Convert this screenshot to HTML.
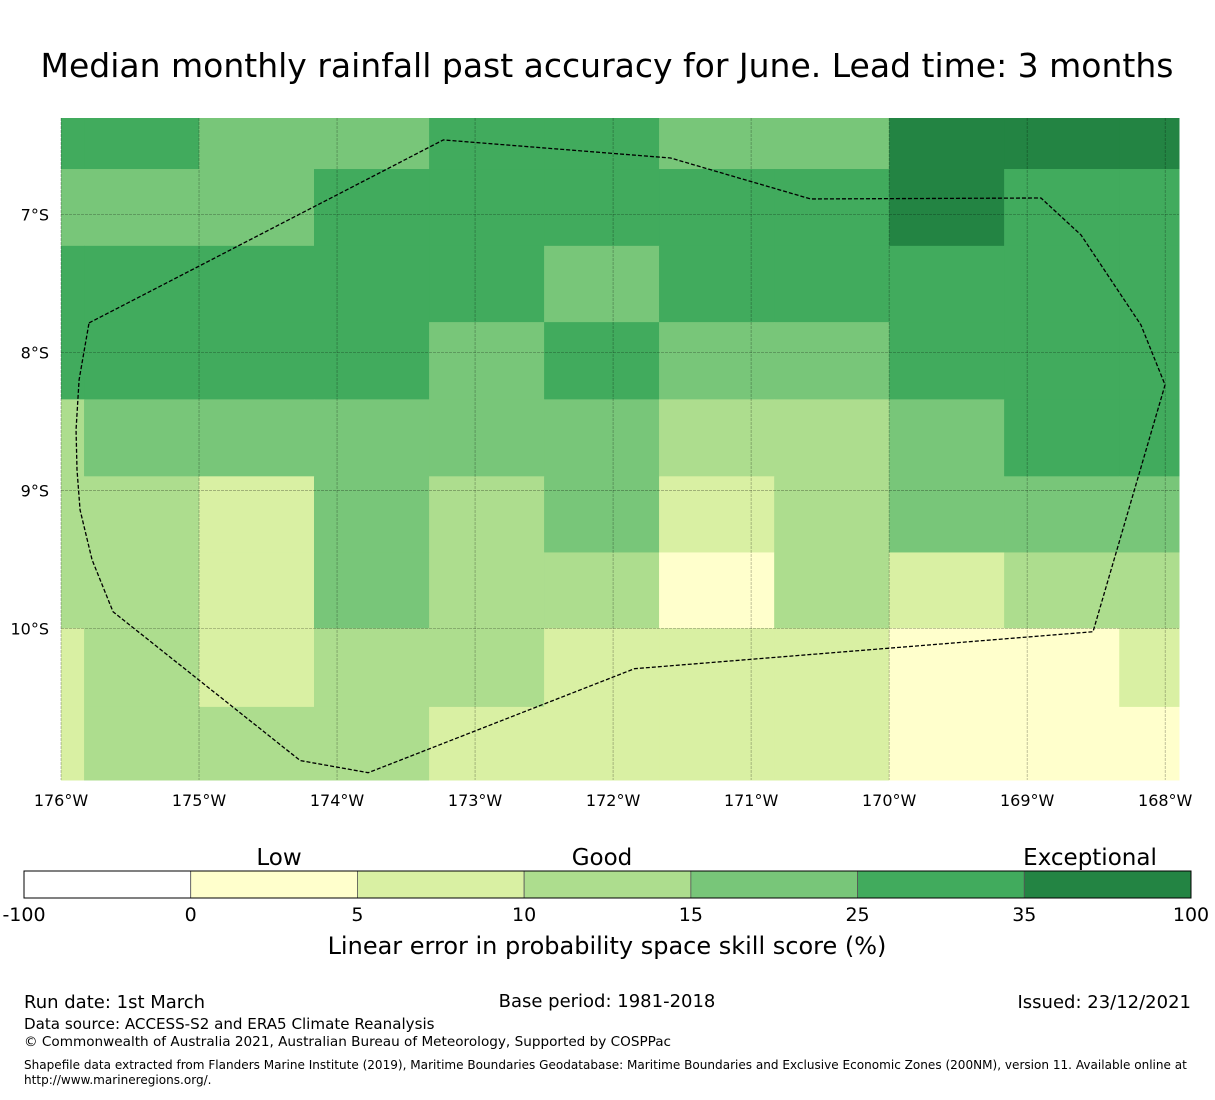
<!DOCTYPE html>
<html><head><meta charset="utf-8"><style>
body{margin:0;background:#fff;width:1215px;height:1095px;overflow:hidden;font-family:"Liberation Sans","DejaVu Sans",sans-serif}
svg text{font-family:"DejaVu Sans","Liberation Sans",sans-serif}
</style></head><body>
<svg id="chart" width="1215" height="1095" xmlns="http://www.w3.org/2000/svg">
<text x="607" y="77" font-size="33" text-anchor="middle">Median monthly rainfall past accuracy for June. Lead time: 3 months</text>
<g id="cells"></g>
<g id="grid"></g>
<g id="ticks"></g>
<g id="boundary"></g>
<g id="cbar"></g>
<text x="279" y="865" font-size="23" text-anchor="middle">Low</text>
<text x="602" y="865" font-size="23" text-anchor="middle">Good</text>
<text x="1090" y="865" font-size="23" text-anchor="middle">Exceptional</text>
<text x="607" y="954" font-size="24" text-anchor="middle">Linear error in probability space skill score (%)</text>
<text x="24" y="1008" font-size="18">Run date: 1st March</text>
<text x="607" y="1007" font-size="18" text-anchor="middle">Base period: 1981-2018</text>
<text x="1191" y="1008" font-size="18" text-anchor="end">Issued: 23/12/2021</text>
<text x="24" y="1029" font-size="15.1">Data source: ACCESS-S2 and ERA5 Climate Reanalysis</text>
<text x="24" y="1046" font-size="13.6">© Commonwealth of Australia 2021, Australian Bureau of Meteorology, Supported by COSPPac</text>
<text x="24" y="1069" font-size="12.05">Shapefile data extracted from Flanders Marine Institute (2019), Maritime Boundaries Geodatabase: Maritime Boundaries and Exclusive Economic Zones (200NM), version 11. Available online at</text>
<text x="24" y="1084" font-size="12.05">http://www.marineregions.org/.</text>
</svg>
<script>
const colEdges=[-176.0,-175.833,-175.0,-174.167,-173.333,-172.5,-171.667,-170.833,-170.0,-169.167,-168.333,-167.9];
const rowEdges=[-6.30,-6.67,-7.227,-7.78,-8.34,-8.898,-9.45,-10.0,-10.57,-11.10];
const cellCats=[
[5,5,4,4,5,5,4,4,6,6,6],
[4,4,4,5,5,5,5,5,6,5,5],
[5,5,5,5,5,4,5,5,5,5,5],
[5,5,5,5,4,5,4,4,5,5,5],
[3,4,4,4,4,4,3,3,4,5,5],
[3,3,2,4,3,4,2,3,4,4,4],
[3,3,2,4,3,3,1,3,2,3,3],
[2,3,2,3,3,2,2,2,1,1,2],
[2,3,3,3,2,2,2,2,1,1,1]];
const catColors=["#ffffff","#ffffcc","#d9f0a3","#addd8e","#78c679","#41ab5d","#238443"];
const cbTicks=["-100","0","5","10","15","25","35","100"];
const lonTicks=[-176,-175,-174,-173,-172,-171,-170,-169,-168];
const latTicks=[-7,-8,-9,-10];
const bLon=[-175.797,-173.230,-171.584,-170.569,-168.900,-168.610,-168.393,-168.176,-168.001,-168.523,-171.845,-173.774,-174.267,-175.623,-175.775,-175.862,-175.884,-175.891,-175.869,-175.797];
const bLat=[-7.786,-6.459,-6.590,-6.887,-6.880,-7.148,-7.474,-7.800,-8.235,-10.025,-10.293,-11.047,-10.959,-9.880,-9.503,-9.141,-8.851,-8.561,-8.199,-7.786];
const NS="http://www.w3.org/2000/svg";
const X0=61,X1=1179,Y0=118,Y1=780,LON0=-176,LON1=-167.9,LAT0=-6.30,LAT1=-11.10;
const xs=l=>X0+(l-LON0)/(LON1-LON0)*(X1-X0);
const ys=l=>Y0+(l-LAT0)/(LAT1-LAT0)*(Y1-Y0);
function mk(t,a,p){const e=document.createElementNS(NS,t);for(const k in a)e.setAttribute(k,a[k]);p.appendChild(e);return e;}
const cells=document.getElementById('cells');
for(let r=0;r<cellCats.length;r++)for(let c=0;c<cellCats[r].length;c++){
 const x=xs(colEdges[c]),x2=xs(colEdges[c+1]),y=ys(rowEdges[r]),y2=ys(rowEdges[r+1]);
 const e=mk('rect',{x:x,y:y,width:x2-x+0.5,height:y2-y+0.5,fill:catColors[cellCats[r][c]]},cells);
 
 
}
const grid=document.getElementById('grid'),ticks=document.getElementById('ticks');
lonTicks.forEach(l=>{const x=xs(l);
 const g=mk('line',{x1:x,x2:x,y1:Y0,y2:Y1,stroke:'#000','stroke-opacity':0.35,'stroke-width':0.7,'stroke-dasharray':'3,1'},grid);
 
 
 const t=mk('text',{x:x,y:806,'font-size':16,'text-anchor':'middle'},ticks);t.textContent=(-l)+'°W';
 
 
});
latTicks.forEach(l=>{const y=ys(l);
 const g=mk('line',{x1:X0,x2:X1,y1:y,y2:y,stroke:'#000','stroke-opacity':0.35,'stroke-width':0.7,'stroke-dasharray':'3,1'},grid);
 
 
 const t=mk('text',{x:49,y:y+6,'font-size':16,'text-anchor':'end'},ticks);t.textContent=(-l)+'°S';
 
 
});
const pts=bLon.map((l,i)=>xs(l)+','+ys(bLat[i])).join(' ');
const pl=mk('polyline',{points:pts,fill:'none',stroke:'#000','stroke-width':1.3,'stroke-dasharray':'4,2','stroke-linejoin':'round'},document.getElementById('boundary'));


const cb=document.getElementById('cbar');const CX0=24,CX1=1191,n=catColors.length,w=(CX1-CX0)/n;
catColors.forEach((c,i)=>{const r=mk('rect',{x:CX0+i*w,y:871,width:w,height:27,fill:c,stroke:'#555','stroke-width':0.8},cb);
 
 });
mk('rect',{x:CX0,y:871,width:CX1-CX0,height:27,fill:'none',stroke:'#000','stroke-width':1},cb);
cbTicks.forEach((t,i)=>{const e=mk('text',{x:CX0+i*w,y:921,'font-size':19,'text-anchor':'middle'},cb);e.textContent=t;
 
 });
</script>
</body></html>
